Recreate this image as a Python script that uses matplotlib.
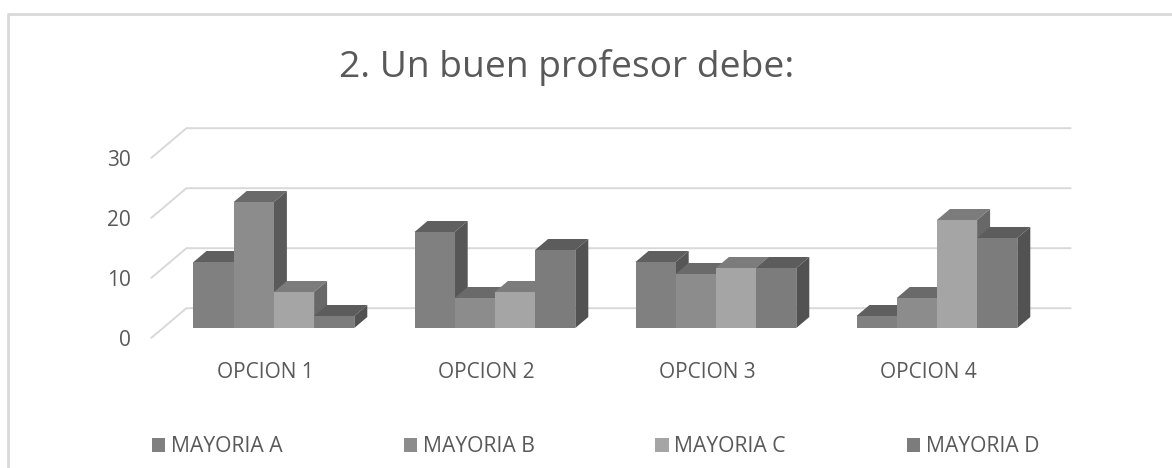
import numpy as np
import matplotlib
matplotlib.use('Agg')
import matplotlib.pyplot as plt
from matplotlib.patches import Polygon, Rectangle

plt.rcParams['font.family'] = ['Open Sans', 'DejaVu Sans']

title = '2. Un buen profesor debe:'
categories = ['OPCION 1', 'OPCION 2', 'OPCION 3', 'OPCION 4']
series_names = ['MAYORIA A', 'MAYORIA B', 'MAYORIA C', 'MAYORIA D']
mayoria_a = [11, 16, 11, 2]
mayoria_b = [21, 5, 9, 5]
mayoria_c = [6, 6, 10, 18]
mayoria_d = [2, 13, 10, 15]
y_ticks = [0, 10, 20, 30]

front_colors = ['#808080', '#8c8c8c', '#a5a5a5', '#7c7c7c']
top_colors = ['#5f5f5f', '#6a6a6a', '#7c7c7c', '#5c5c5c']
side_colors = ['#565656', '#5a5a5a', '#686868', '#525252']
text_color = '#595959'
grid_color = '#d9d9d9'

W, H = 1172, 468
fig = plt.figure(figsize=(W / 100, H / 100), dpi=100)
ax = fig.add_axes([163 / W, (H - 328) / H, 884 / W, 180 / H])
ax.set_xlim(0, 4)
ax.set_ylim(0, 30)
ax.axis('off')

# fake 3d: one unit of depth moves a point right and up
depth_x = 13 / 221
depth_y = 11 / 6


def project(x, y, d):
    return x + d * depth_x, y + d * depth_y


# walls and gridlines
for v in y_ticks:
    p0 = project(0, v, -0.88)
    p1 = project(0, v, 1.8)
    p2 = project(4, v, 1.8)
    ax.plot([p0[0], p1[0], p2[0]], [p0[1], p1[1], p2[1]], color=grid_color,
            lw=1.4, clip_on=False, zorder=1)
    ax.text(-0.145, v - 2.0, str(v), ha='right', va='center', fontsize=15,
            color=text_color, clip_on=False)

series = [mayoria_a, mayoria_b, mayoria_c, mayoria_d]
bar_w = 40.2 / 221
group_start = 30.5 / 221

zorder = 2
for i in range(len(categories)):
    for j, values in enumerate(series):
        x0 = i + group_start + j * bar_w
        x1 = x0 + bar_w
        v = values[i]
        top = [project(x0, v, 0), project(x1, v, 0), project(x1, v, 1), project(x0, v, 1)]
        side = [project(x1, 0, 0), project(x1, v, 0), project(x1, v, 1), project(x1, 0, 1)]
        ax.add_patch(Polygon(top, closed=True, fc=top_colors[j], ec='none', clip_on=False, zorder=zorder))
        ax.add_patch(Polygon(side, closed=True, fc=side_colors[j], ec='none', clip_on=False, zorder=zorder))
        ax.add_patch(Rectangle((x0, 0), bar_w, v, fc=front_colors[j], ec='none', clip_on=False, zorder=zorder))
        zorder += 1

for i, cat in enumerate(categories):
    ax.text(i + 0.5 - 8 / 221, -7.4, cat, ha='center', va='center', fontsize=15,
            color=text_color, clip_on=False)

handles = [Rectangle((0, 0), 1, 1, fc=c, ec='none') for c in front_colors]
fig.legend(handles, series_names, loc='center left', bbox_to_anchor=(133 / W, 1 - 447 / H),
           ncol=4, frameon=False, fontsize=15.2, labelcolor=text_color,
           handlelength=0.62, handleheight=0.62, handletextpad=0.28, columnspacing=5.73)

fig.text(567 / W, 1 - 68 / H, title, ha='center', va='center', fontsize=26.8, color='#595959')

# chart frame, only top and left edges show in the crop
fig.add_artist(plt.Line2D([7.5 / W, 7.5 / W, 1], [0, 1 - 13.5 / H, 1 - 13.5 / H],
                          color=grid_color, lw=2))

fig.savefig('out.png', dpi=100)
